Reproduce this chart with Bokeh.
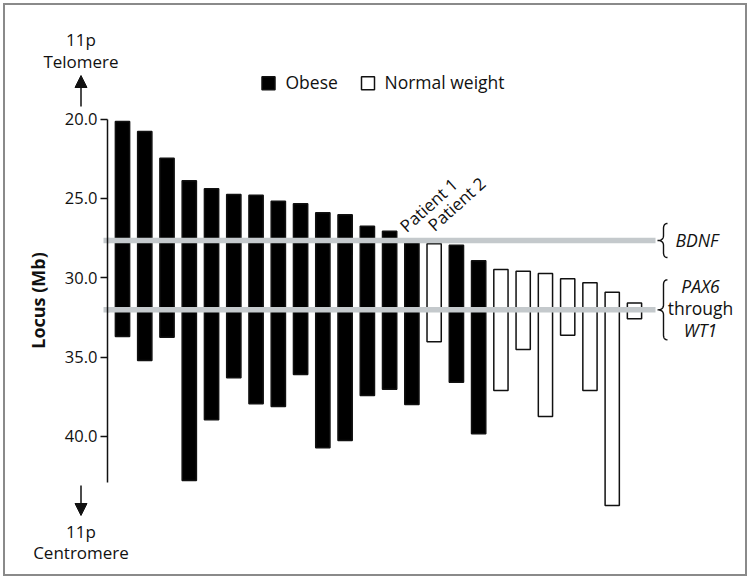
import numpy as np
from math import pi, sin, cos
from bokeh.plotting import figure
from bokeh.layouts import column, row
from bokeh.models import (Range1d, FixedTicker, PrintfTickFormatter,
                          Arrow, NormalHead, ColumnDataSource)
from bokeh.core.properties import value
from bokeh.embed import file_html
from bokeh.resources import INLINE

# ---------------- data ----------------
tops = [20.15, 20.78, 22.46, 23.89, 24.39, 24.75, 24.80, 25.17, 25.34, 25.90,
        26.03, 26.75, 27.06, 27.65, 27.86, 27.95, 28.93, 29.48, 29.58, 29.73,
        30.06, 30.31, 30.91, 31.59]
bottoms = [33.70, 35.21, 33.74, 42.77, 38.95, 36.30, 37.94, 38.11, 36.09, 40.71,
           40.25, 37.41, 37.03, 37.98, 34.03, 36.58, 39.83, 37.10, 34.52, 38.74,
           33.62, 37.10, 44.35, 32.58]
groups = (["Obese"] * 14 + ["Normal weight"] + ["Obese"] * 2 +
          ["Normal weight"] * 7)
patient_labels = ["Patient 1", "Patient 2"]
patient_index = [13, 14]
bdnf_locus = 27.65
pax6_locus = 32.02
y_ticks = [20, 25, 30, 35, 40]
axis_end = 42.9

# ---------------- geometry ----------------
W, H = 750, 579
LEFT = 107
x_start, x_end = -0.6739, 28.212
y_bottom, y_top = 49.011, 12.527
SX = (x_end - x_start) / (W - LEFT)   # data units per px
SY = (y_bottom - y_top) / H


def X(px):  # page px -> data x
    return x_start + (px - LEFT) * SX


def Y(py):  # page px -> data y
    return y_top + py * SY


def PY(loc):  # data y -> page px
    return (loc - y_top) / SY


FONT = value("Open Sans")
TXT = "#111111"
GREY = "#c4c9cc"

# ---------- background layer (texts left of the axis) ----------
bg = figure(width=W, height=H, output_backend="svg", toolbar_location=None,
            x_range=Range1d(0, W), y_range=Range1d(H, 0),
            x_axis_location=None, y_axis_location=None, min_border=0,
            min_border_left=0, min_border_right=0, min_border_top=0,
            min_border_bottom=0)
bg.grid.visible = False
bg.outline_line_color = None
bg.background_fill_color = "white"
bg.border_fill_color = "white"

bg.text(x=[80.5] * 4, y=[38.5, 61, 530.5, 552.3],
        text=["11p", "Telomere", "11p", "Centromere"], text_font=FONT,
        text_font_size="17px", text_color=TXT, text_align="center",
        text_baseline="middle")
bg.text(x=[37], y=[300], text=["Locus (Mb)"], text_font=FONT,
        text_font_style="bold", text_font_size="18px", text_color=TXT,
        angle=pi / 2, text_align="center", text_baseline="middle")
for ys, ye in ((106, 75), (485, 515)):
    bg.add_layout(Arrow(end=NormalHead(size=12, fill_color=TXT, line_color=TXT),
                        x_start=80.5, y_start=ys, x_end=80.5, y_end=ye,
                        line_width=1.5, line_color=TXT))
# left stubs of the grey gene lines (outside the main frame)
bg.segment(x0=103, x1=109, y0=[PY(bdnf_locus), PY(pax6_locus)],
           y1=[PY(bdnf_locus), PY(pax6_locus)], line_color=GREY,
           line_width=5.5)

# ---------- main plot ----------
p = figure(width=W, height=H, output_backend="svg", toolbar_location=None,
           x_range=Range1d(x_start, x_end), y_range=Range1d(y_bottom, y_top),
           x_axis_location=None, min_border_left=LEFT, min_border_right=0,
           min_border_top=0, min_border_bottom=0)
p.styles = {"outline": "2px solid #8a8a8a", "outline-offset": "-5px"}
p.grid.visible = False
p.outline_line_color = None
p.background_fill_color = None
p.border_fill_color = None

ax = p.yaxis[0]
ax.ticker = FixedTicker(ticks=y_ticks)
ax.formatter = PrintfTickFormatter(format="%.1f")
ax.bounds = (y_ticks[0], axis_end)
ax.major_tick_in = 0
ax.major_tick_out = 7
ax.minor_tick_line_color = None
ax.axis_line_width = 1.5
ax.major_tick_line_width = 1.5
ax.axis_line_color = TXT
ax.major_tick_line_color = TXT
ax.major_label_standoff = 3
ax.major_label_text_font = "Open Sans"
ax.major_label_text_font_size = "16.5px"
ax.major_label_text_color = TXT

# bars
src = ColumnDataSource(dict(
    x=list(range(len(tops))), top=tops, bottom=bottoms, group=groups,
    fill=["black" if g == "Obese" else "white" for g in groups]))
p.vbar(x="x", top="top", bottom="bottom", width=0.64, source=src,
       fill_color="fill", line_color=TXT, line_width=1.5)

# grey gene lines
for loc in (bdnf_locus, pax6_locus):
    p.segment(x0=X(103), x1=X(655), y0=loc, y1=loc,
              line_color=GREY, line_width=5.5)


def brace(tip_px, center_locus, half_px):
    s, e, r = 6.0, 10.0, 5.0
    t = np.linspace(0, 1, 12)

    def qb(p0, c, p1):
        return ((1 - t) ** 2)[:, None] * np.array(p0) + \
            (2 * (1 - t) * t)[:, None] * np.array(c) + \
            (t ** 2)[:, None] * np.array(p1)
    h = half_px
    pts = np.vstack([qb((e, -h), (s, -h), (s, -h + r)),
                     qb((s, -r), (s, 0), (0, 0)),
                     qb((0, 0), (s, 0), (s, r)),
                     qb((s, h - r), (s, h), (e, h))])
    xs = X(tip_px + pts[:, 0])
    ys = center_locus + pts[:, 1] * SY
    p.line(xs, ys, line_color=TXT, line_width=1.4)


brace(657, bdnf_locus, 17)
brace(657, pax6_locus, 30)

p.text(x=[X(675)], y=[Y(239)], text=["BDNF"], text_font=FONT,
       text_font_style="italic", text_font_size="17.5px", text_color=TXT,
       text_baseline="middle", text_align="left")
p.text(x=[X(700)] * 2, y=[Y(285.5), Y(329)],
       text=["PAX6", "WT1"], text_font=FONT, text_font_style="italic",
       text_font_size="17.5px", text_color=TXT, text_baseline="middle",
       text_align="center")
p.text(x=[X(700)], y=[Y(307)], text=["through"], text_font=FONT,
       text_font_size="17.5px", text_color=TXT, text_baseline="middle",
       text_align="center")

# patient labels (anchor = middle of text line start, rotated 42 deg)
ang = 42 * pi / 180
off = 1.5
p.text(x=[X(403 - off * sin(ang)), X(431 - off * sin(ang))],
       y=[Y(229 - off * cos(ang)), Y(228 - off * cos(ang))],
       text=patient_labels, text_font=FONT,
       text_font_size="17px", text_color=TXT, angle=ang,
       text_baseline="middle", text_align="left")

# legend
p.scatter(x=[X(268), X(367.5)], y=[Y(82.7)] * 2, marker="square", size=13,
          fill_color=["black", "white"], line_color=TXT, line_width=1.5)
p.text(x=[X(285), X(384)], y=[Y(81.8)] * 2, text=["Obese", "Normal weight"],
       text_font=FONT, text_font_size="17.5px", text_color=TXT,
       text_baseline="middle", text_align="left")

r1 = row(bg)
r2 = row(p)
r2.styles = {"margin-top": f"-{H}px"}
layout = column(r1, r2)
open("out.html", "w").write(file_html(layout, INLINE))
